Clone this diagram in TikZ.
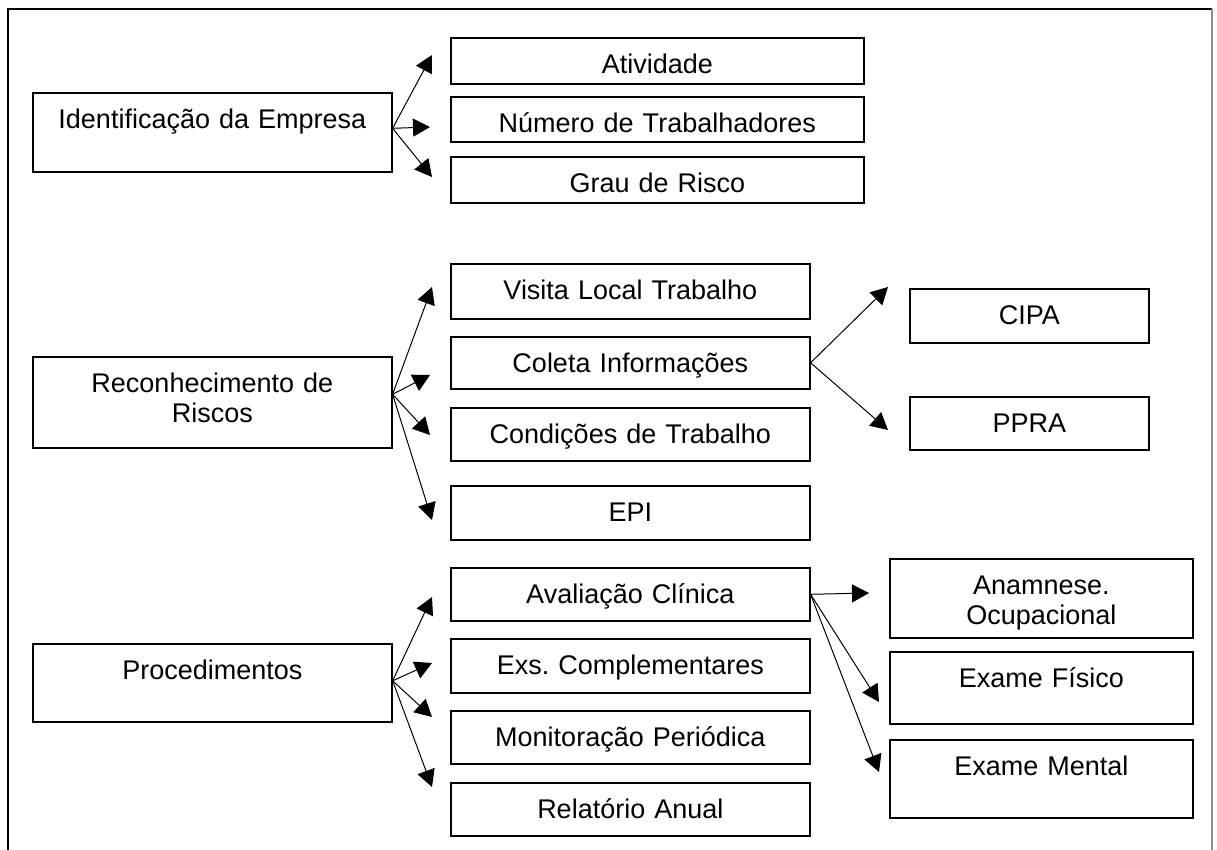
\documentclass[tikz,border=0pt]{standalone}
\usepackage{fontspec}
\setmainfont{Liberation Sans}
\usetikzlibrary{arrows.meta}
\frenchspacing

\begin{document}
\begin{tikzpicture}[
    x=0.5pt, y=-0.5pt,
    box/.style={
      draw,
      line width=0.8pt,
      inner sep=0pt,
      anchor=north west,
      align=center,
      text height=18pt,
      text depth=8.5pt,
      font=\fontsize{13.5}{14.75}\selectfont
    },
    wide/.style={box, text width=206.5pt},
    mid/.style={box, text width=179.5pt},
    narrow/.style={box, text width=119.5pt},
    side/.style={box, text width=151.5pt},
    arrow/.style={-{Triangle[length=8.5pt,width=9pt]}, line width=0.5pt}
  ]
  \useasboundingbox (0,0) rectangle (1217,850);
  \draw[line width=1pt] (8,850) -- (8,9) -- (1212,9);
  \draw[line width=0.8pt, black!45] (1212,9) -- (1212,850);

  \node[mid, text depth=21.5pt] (empresa) at (32,92) {Identificação da Empresa};
  \node[wide, text depth=5pt] (atividade) at (450,37) {Atividade};
  \node[wide, text depth=4.5pt] (trabalhadores) at (450,96) {Número de Trabalhadores};
  \node[wide, text depth=5pt] (grau) at (450,156) {Grau de Risco};

  \node[mid, text depth=27.5pt] (riscos) at (32,356) {Reconhecimento de\\Riscos};
  \node[mid, text depth=9.5pt] (visita) at (450,263) {Visita Local Trabalho};
  \node[mid, text depth=8pt] (coleta) at (450,336) {Coleta Informações};
  \node[mid] (condicoes) at (450,407) {Condições de Trabalho};
  \node[mid, text depth=9pt] (epi) at (450,485) {EPI};
  \node[narrow, text depth=9pt] (cipa) at (909,288) {CIPA};
  \node[narrow] (ppra) at (909,396) {PPRA};

  \node[mid, text depth=21pt] (proced) at (32,643) {Procedimentos};
  \node[mid] (avaliacao) at (450,567) {Avaliação Clínica};
  \node[mid, text depth=9pt] (exames) at (450,638) {Exs. Complementares};
  \node[mid] (monitor) at (450,710) {Monitoração Periódica};
  \node[mid] (relatorio) at (450,782) {Relatório Anual};
  \node[side, text depth=21.5pt] (anamnese) at (889,558) {Anamnese.\\Ocupacional};
  \node[side, text depth=18pt] (fisico) at (889,651) {Exame Físico};
  \node[side, text depth=21pt] (mental) at (889,739) {Exame Mental};

  \coordinate (to-atividade) at (432,55);
  \coordinate (to-trabalhadores) at (430,127);
  \coordinate (to-grau) at (432,177);
  \coordinate (to-visita) at (432,287);
  \coordinate (to-coleta) at (430,375);
  \coordinate (to-condicoes) at (430,435);
  \coordinate (to-epi) at (432,520);
  \coordinate (to-cipa) at (888,287);
  \coordinate (to-ppra) at (888,430);
  \coordinate (to-avaliacao) at (432,597);
  \coordinate (to-exames) at (432,663);
  \coordinate (to-monitor) at (432,717);
  \coordinate (to-relatorio) at (432,787);
  \coordinate (to-anamnese) at (869,593);
  \coordinate (to-fisico) at (879,702);
  \coordinate (to-mental) at (879,772);

  \draw[arrow] ([yshift=2pt]empresa.east) -- (to-atividade);
  \draw[arrow] ([yshift=2pt]empresa.east) -- (to-trabalhadores);
  \draw[arrow] ([yshift=2pt]empresa.east) -- (to-grau);

  \draw[arrow] ([yshift=4pt]riscos.east) -- (to-visita);
  \draw[arrow] ([yshift=4pt]riscos.east) -- (to-coleta);
  \draw[arrow] ([yshift=4pt]riscos.east) -- (to-condicoes);
  \draw[arrow] ([yshift=4pt]riscos.east) -- (to-epi);
  \draw[arrow] (coleta.east) -- (to-cipa);
  \draw[arrow] (coleta.east) -- (to-ppra);

  \draw[arrow] ([yshift=1pt]proced.east) -- (to-avaliacao);
  \draw[arrow] ([yshift=1pt]proced.east) -- (to-exames);
  \draw[arrow] ([yshift=1pt]proced.east) -- (to-monitor);
  \draw[arrow] ([yshift=1pt]proced.east) -- (to-relatorio);
  \draw[arrow] (avaliacao.east) -- (to-anamnese);
  \draw[arrow] (avaliacao.east) -- (to-fisico);
  \draw[arrow] (avaliacao.east) -- (to-mental);
\end{tikzpicture}
\end{document}
